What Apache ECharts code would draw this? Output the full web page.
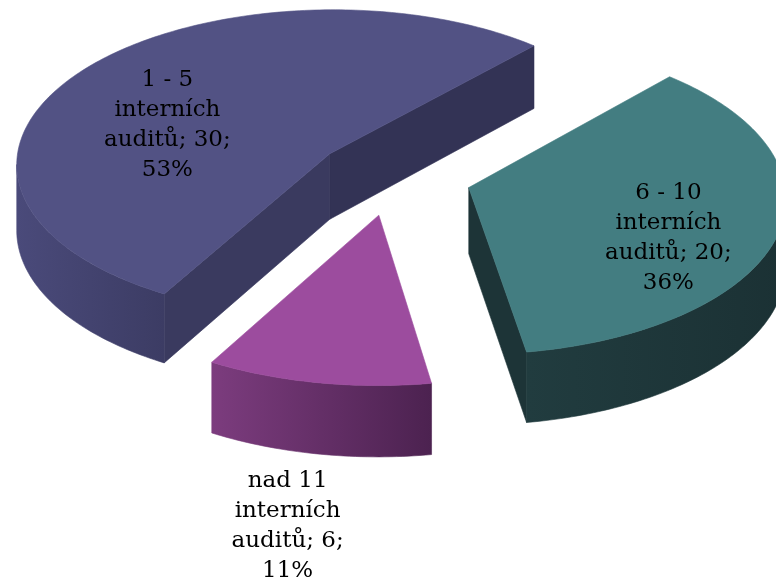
<!DOCTYPE html>
<html>
<head>
<meta charset="utf-8">
<script src="https://cdn.jsdelivr.net/npm/echarts@6/dist/echarts.min.js"></script>
<style>
html,body{margin:0;padding:0;background:#fff;}
#chart{width:776px;height:581px;}
</style>
</head>
<body>
<div id="chart"></div>
<script>
// ---- data ----
const categories = ['1 - 5 interních auditů', '6 - 10 interních auditů', 'nad 11 interních auditů'];
const values = [30, 20, 6];
const percentLabels = ['53%', '36%', '11%'];

// ---- styles ----
const topColors = ['#525284', '#437d81', '#9c4c9e'];
const sideColors = [['#4a4a7a', '#3c3c64'], ['#213c3f', '#1b3134'], ['#7c3c7e', '#4c2250']];
const startCutColors = ['#3a3a5f', '#1d3437', '#5a2a5c'];
const endCutColors = ['#333355', '#1d3437', '#5a2a5c'];

// ---- 3D pie view (perspective projection) ----
const P = {cx: 393, cy: 176.4, sx: 315, sy: 155.3, a: 0.06, t: 66, explode: 0.25, start: 209.5};
// label placement relative to each slice (radius fraction, angle offset from bisector)
const labelPlace = [{r: 0.562, d: -16}, {r: 0.691, d: 10.6}, {r: 1.753, d: -2}];
const RAD = Math.PI / 180;

function proj(u, z, bottom) {
  const k = 1 + P.a * z;
  const x = P.cx + P.sx * u / k;
  let y = P.cy - P.sy * z / k;
  if (bottom) y += P.t / k;
  return [x, y];
}

const total = values.reduce((a, b) => a + b, 0);

function renderItem(params, api) {
  const i = params.dataIndex;
  const v = api.value(0);
  let acc = 0;
  for (let j = 0; j < i; j++) acc += values[j];
  const a0 = P.start + acc / total * 360;
  const a1 = a0 + v / total * 360;
  const mid = (a0 + a1) / 2;
  const ou = Math.sin(mid * RAD) * P.explode;
  const oz = Math.cos(mid * RAD) * P.explode;
  const pt = (ang, r, bottom) => proj(ou + r * Math.sin(ang * RAD), oz + r * Math.cos(ang * RAD), bottom);
  const arc = (from, to, bottom) => {
    const n = Math.max(2, Math.ceil(Math.abs(to - from) / 1));
    const out = [];
    for (let k = 0; k <= n; k++) out.push(pt(from + (to - from) * k / n, 1, bottom));
    return out;
  };
  // silhouette tangents of this slice's circle (rightmost / leftmost)
  let thR = 90, thL = 270, xMax = -Infinity, xMin = Infinity;
  for (let th = 0; th < 360; th += 0.25) {
    const x = pt(th, 1, false)[0];
    if (x > xMax) { xMax = x; thR = th; }
    if (x < xMin) { xMin = x; thL = th; }
  }
  const children = [];
  const face = (points, fill) => children.push({
    type: 'polygon', shape: {points: points},
    style: {fill: fill, stroke: fill, lineWidth: 0.6}
  });
  // cut faces
  if (Math.sin(a0 * RAD) < 0) {
    face([pt(a0, 0, false), pt(a0, 1, false), pt(a0, 1, true), pt(a0, 0, true)], startCutColors[i]);
  }
  if (Math.sin(a1 * RAD) > 0) {
    face([pt(a1, 0, false), pt(a1, 1, false), pt(a1, 1, true), pt(a1, 0, true)], endCutColors[i]);
  }
  // outer rim walls (front-facing part)
  [-360, 0, 360].forEach(k => {
    const lo = Math.max(a0, thR + k), hi = Math.min(a1, thL + k);
    if (hi > lo) {
      const pts = arc(lo, hi, false).concat(arc(hi, lo, true));
      const xs = pts.map(p => p[0]);
      const xmin = Math.min.apply(null, xs), xmax = Math.max.apply(null, xs);
      const grad = new echarts.graphic.LinearGradient(xmin, 0, xmax, 0, [
        {offset: 0, color: sideColors[i][0]}, {offset: 1, color: sideColors[i][1]}
      ], true);
      children.push({type: 'polygon', shape: {points: pts}, style: {fill: grad, stroke: grad, lineWidth: 0.6}});
    }
  });
  // top face
  face([pt(a0, 0, false)].concat(arc(a0, a1, false)), topColors[i]);
  // label
  const lp = labelPlace[i];
  const lpt = pt(mid + lp.d, lp.r, false);
  const name = categories[i].replace(' interních ', '\ninterních\n');
  children.push({
    type: 'text', x: lpt[0], y: lpt[1], z2: 10,
    style: {
      text: name + '; ' + v + ';\n' + percentLabels[i],
      fill: '#000', fontFamily: 'DejaVu Serif', fontSize: 23, lineHeight: 30,
      align: 'center', verticalAlign: 'middle'
    }
  });
  return {type: 'group', children: children};
}

const chart = echarts.init(document.getElementById('chart'));
chart.setOption({
  animation: false,
  series: [{
    type: 'custom',
    coordinateSystem: 'none',
    renderItem: renderItem,
    data: values.map((v, i) => ({name: categories[i], value: [v]}))
  }]
});
</script>
</body>
</html>
